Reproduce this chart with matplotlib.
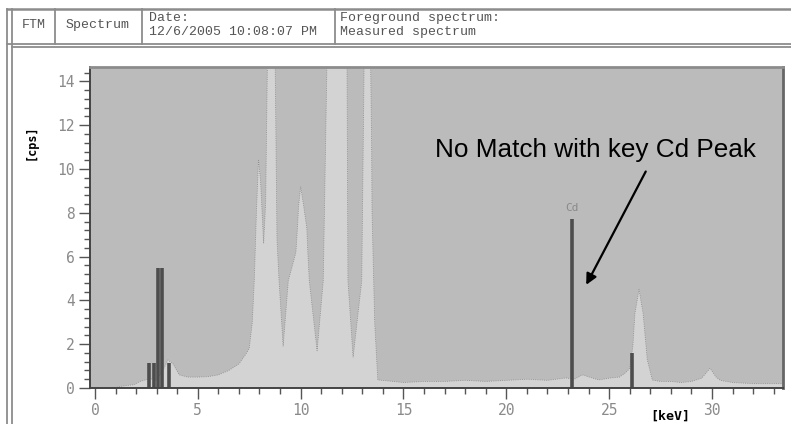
import matplotlib.pyplot as plt
from matplotlib.lines import Line2D
import numpy as np

# spectrum (keV, cps); peaks above 14.6 run off the top
kev = [0.0, 0.5, 1.0, 1.3, 1.6, 1.9, 2.2, 2.5, 2.8, 3.0, 3.3, 3.55, 3.8, 4.1,
       4.5, 5.0, 5.5, 6.0, 6.5, 7.0, 7.3, 7.5, 7.65, 7.75, 7.85, 7.95, 8.05,
       8.2, 8.3, 8.4, 8.6, 8.75, 8.85, 8.95, 9.15, 9.4, 9.6, 9.77, 9.85, 9.9,
       10.0, 10.15, 10.3, 10.35, 10.42, 10.8, 11.1, 11.3, 11.8, 12.25, 12.3,
       12.55, 12.97, 13.1, 13.3, 13.4, 13.45, 13.47, 13.5, 13.6, 13.75, 14.5,
       15.0, 16.0, 17.0, 18.0, 19.0, 20.0, 21.0, 22.0, 22.9, 23.3, 23.7, 24.2,
       24.5, 25.0, 25.5, 25.8, 26.0, 26.15, 26.25, 26.45, 26.65, 26.85, 27.1,
       27.5, 28.0, 28.5, 29.0, 29.5, 29.9, 30.2, 30.4, 31.0, 32.0, 33.0, 33.5]
cps = [0.0, 0.0, 0.02, 0.08, 0.12, 0.15, 0.3, 0.38, 0.42, 0.35, 0.8, 1.28,
       1.1, 0.6, 0.5, 0.5, 0.52, 0.6, 0.8, 1.1, 1.5, 1.8, 3.0, 5.0, 8.0, 10.4,
       9.5, 6.6, 8.5, 16.0, 20.0, 16.0, 6.8, 4.9, 1.9, 4.9, 5.6, 6.2, 7.4, 8.3,
       9.2, 8.3, 7.3, 6.2, 4.9, 1.7, 4.9, 16.0, 22.0, 16.0, 4.9, 1.4, 4.9,
       16.0, 20.0, 15.0, 11.2, 8.1, 6.9, 3.0, 0.37, 0.3, 0.25, 0.3, 0.3, 0.35,
       0.3, 0.35, 0.4, 0.35, 0.46, 0.4, 0.6, 0.45, 0.37, 0.45, 0.5, 0.7, 0.9,
       1.9, 3.4, 4.5, 3.4, 1.3, 0.36, 0.3, 0.3, 0.25, 0.3, 0.45, 0.9, 0.5,
       0.35, 0.25, 0.2, 0.2, 0.2]

# library lines (dark bars)
line_kev = [2.65, 2.85, 3.05, 3.25, 3.6, 23.2, 26.1]
line_cps = [1.14, 1.14, 5.5, 5.5, 1.14, 7.7, 1.6]

W, H = 791, 424
fig = plt.figure(figsize=(W / 100, H / 100), dpi=100)
fig.patch.set_facecolor('white')

def fx(px):
    return px / W

def fy(py):
    return 1 - py / H

def hline(py, x0, x1, c='#8c8c8c', lw=1.3):
    fig.add_artist(Line2D([fx(x0), fx(x1)], [fy(py), fy(py)], color=c, lw=lw))

def vline(px, y0, y1, c='#8c8c8c', lw=1.3):
    fig.add_artist(Line2D([fx(px), fx(px)], [fy(y0), fy(y1)], color=c, lw=lw))

# header table and outer frame
hline(9, 7, 791, lw=1.8)
hline(44, 7, 791)
hline(47, 12, 791)
vline(7, 9, 424)
vline(12, 9, 424)
for px in [55, 142, 335]:
    vline(px, 9, 44)

hdr = dict(family='Liberation Mono', fontsize=9.5, color='#555555', va='center')
fig.text(fx(34), fy(25), 'FTM', ha='center', **hdr)
fig.text(fx(98), fy(25), 'Spectrum', ha='center', **hdr)
fig.text(fx(149), fy(18), 'Date:', ha='left', **hdr)
fig.text(fx(149), fy(32), '12/6/2005 10:08:07 PM', ha='left', **hdr)
fig.text(fx(340), fy(18), 'Foreground spectrum:', ha='left', **hdr)
fig.text(fx(340), fy(32), 'Measured spectrum', ha='left', **hdr)

ax = fig.add_axes([fx(90), fy(388), fx(783 - 90), (388 - 67) / H])
ax.set_facecolor('#bbbbbb')

ax.fill_between(kev, cps, 0, color='#d3d3d3', lw=0)
ax.plot(kev, cps, color='#8a8a8a', lw=0.6, ls=':')
ax.vlines(line_kev, 0, line_cps, color='#4d4d4d', lw=2.6)
ax.text(23.2, 8.0, 'Cd', ha='center', va='bottom', color='#8a8a8a',
        family='DejaVu Sans Mono', fontsize=8)

ax.annotate('', xy=(23.82, 4.6), xytext=(26.84, 10.0),
            arrowprops=dict(arrowstyle='-|>', color='black', lw=1.6,
                            mutation_scale=16))
ax.text(24.35, 10.87, 'No Match with key Cd Peak', ha='center', va='center',
        family='Liberation Sans', fontsize=18.8, color='black')

ax.set_xlim(-0.24, 33.45)
ax.set_ylim(0, 14.66)
ax.set_xticks(np.arange(0, 31, 5))
ax.set_xticks(np.arange(0, 34, 1), minor=True)
ax.set_yticks(np.arange(0, 15, 2))
ax.set_yticks(np.arange(0, 14.7, 0.4), minor=True)
ax.tick_params(which='major', length=8, width=1, color='#555555',
               labelcolor='#8a8a8a', labelsize=10.5, pad=3)
ax.tick_params(which='minor', length=4, width=1, color='#555555')
for lab in ax.get_xticklabels() + ax.get_yticklabels():
    lab.set_family('DejaVu Sans Mono')

for side in ['left', 'bottom']:
    ax.spines[side].set_color('#444444')
    ax.spines[side].set_linewidth(1.4)
ax.spines['top'].set_color('#8c8c8c')
ax.spines['top'].set_linewidth(2)
ax.spines['right'].set_color('#666666')
ax.spines['right'].set_linewidth(2)

fig.text(fx(31), fy(142), '[cps]', rotation=90, ha='center', va='center',
         family='DejaVu Sans Mono', fontweight='bold', fontsize=8.5)
fig.text(fx(670), fy(416), '[keV]', ha='center', va='center',
         family='DejaVu Sans Mono', fontweight='bold', fontsize=9.5)

fig.savefig('out.png', dpi=100)
